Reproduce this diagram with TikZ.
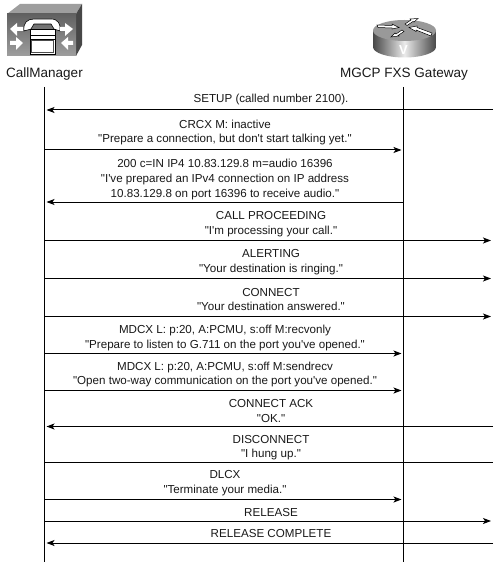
\documentclass[tikz,border=0pt]{standalone}
\usepackage{fontspec}
\setmainfont{Liberation Sans}[Ligatures=TeXOff]
\usetikzlibrary{arrows.meta}
\definecolor{boxtop}{gray}{0.62}
\definecolor{boxside}{gray}{0.28}
\tikzset{
  x=1pt,y=-1pt,
  msg/.style={font=\fontsize{11.6}{14.7}\selectfont,align=center,inner sep=0pt,text=black!90,yshift=-1pt},
  actor/.style={font=\fontsize{13.5}{15}\selectfont,inner sep=0pt,text=black!90},
  lane/.style={line width=1pt,black},
  arrow/.style={line width=1pt,black,-{Stealth[length=8pt,width=6pt,inset=2pt]},shorten >=2pt},
  plain/.style={line width=1pt,black},
  iconwhite/.style={fill=white,draw=none},
  phoneline/.style={draw=black,line width=0.6pt,fill=white},
  routerarrow/.style={fill=white,draw=black,line width=0.5pt},
}
\begin{document}
\begin{tikzpicture}
\useasboundingbox[fill=white] (0,0) rectangle (500,569);

% CallManager icon
\fill[boxtop] (7,14) -- (20,4) -- (82,4) -- (76,14) -- cycle;
\fill[boxside] (76,14) -- (82,4) -- (82,45) -- (76,56) -- cycle;
\shade[top color=black!62,bottom color=black!38] (7,14) rectangle (76,56);
\fill[phoneline] (24,31) .. controls (23,23) and (27,19) .. (34,19) -- (51,19) .. controls (58,19) and (61,24) .. (60,31) -- (54,29) -- (51,24) -- (34,24) -- (31,29) -- cycle;
\fill[phoneline] (30,29) rectangle (55,54);
\draw[black,line width=0.5pt] (30,35) -- (55,35) (30,39) -- (55,39);
\fill[black!70] (31,40) rectangle (54,53);
\fill[white] (32,41) rectangle (53,52);
\fill[iconwhite] (10,29) -- (17,23) -- (17,27) -- (23,27) -- (23,31) -- (17,31) -- (17,36) -- cycle;
\fill[iconwhite] (23,43) -- (16,37) -- (16,41) -- (10,41) -- (10,45) -- (16,45) -- (16,50) -- cycle;
\fill[iconwhite] (73,29) -- (65,23) -- (65,27) -- (60,27) -- (60,31) -- (65,31) -- (65,36) -- cycle;
\fill[iconwhite] (61,43) -- (68,37) -- (68,41) -- (73,41) -- (73,45) -- (68,45) -- (68,50) -- cycle;

% Gateway icon
\shade[left color=black!72,right color=black!72,middle color=black!8]
  (373,30.5) -- (373,47) arc[start angle=180,end angle=0,x radius=31.5,y radius=10.5] -- (436,30.5) -- cycle;
\fill[black!40] (404.5,30.5) ellipse[x radius=31.5,y radius=10.5];
\fill[routerarrow] (377,25) -- (392,25.5) -- (392,24) -- (399,27.5) -- (392,29) -- (392,28) -- (378,27.5) -- cycle;
\fill[routerarrow] (431,36) -- (416,30) -- (416,31.5) -- (409,27.5) -- (417,26) -- (417,27.5) -- (432,33) -- cycle;
\fill[routerarrow] (405,24) -- (411,20) -- (410,19) -- (418,18.5) -- (414,22) -- (413,21.5) -- (407,25.5) -- cycle;
\fill[routerarrow] (402,30) -- (396,34) -- (395,33) -- (391,37) -- (399,36) -- (398,35.5) -- (404,31.5) -- cycle;
\node[font=\fontsize{13}{13}\selectfont\bfseries,text=white,inner sep=0pt] (vmark) at (403.5,50) {V};

% Actor labels
\node[actor] (cm) at (44.5,74) {CallManager};
\node[actor] (gw) at (404,74) {MGCP FXS Gateway};

% Lifelines
\coordinate (ltop) at (44.5,87);
\coordinate (lbot) at (44.5,562);
\coordinate (rtop) at (403.5,87);
\coordinate (rbot) at (403.5,562);
\draw[lane] (ltop) -- (lbot);
\draw[lane] (rtop) -- (rbot);

% Messages
\node[msg] (m1) at (271,99) {SETUP (called number 2100).};
\node[msg] (m2) at (225,131.5) {CRCX M: inactive\\"Prepare a connection, but don't start talking yet."};
\node[msg] (m3) at (225,178.5) {200 c=IN IP4 10.83.129.8 m=audio 16396\\"I've prepared an IPv4 connection on IP address\\10.83.129.8 on port 16396 to receive audio."};
\node[msg] (m4) at (271,223) {CALL PROCEEDING\\"I'm processing your call."};
\node[msg] (m5) at (271,261) {ALERTING\\"Your destination is ringing."};
\node[msg] (m6) at (271,298.5) {CONNECT\\"Your destination answered."};
\node[msg] (m7) at (225,337) {MDCX L: p:20, A:PCMU, s:off M:recvonly\\"Prepare to listen to G.711 on the port you've opened."};
\node[msg] (m8) at (225,373.5) {MDCX L: p:20, A:PCMU, s:off M:sendrecv\\"Open two-way communication on the port you've opened."};
\node[msg] (m9) at (271,410) {CONNECT ACK\\"OK."};
\node[msg] (m10) at (271,446.5) {DISCONNECT\\"I hung up."};
\node[msg] (m11) at (225,482) {DLCX\\"Terminate your media."};
\node[msg] (m12) at (271,511.5) {RELEASE};
\node[msg] (m13) at (271,533) {RELEASE COMPLETE};

% Connector ends
\foreach \n/\y in {a/110,b/150,c/202,d/240.5,e/278.5,f/316.5,g/353.5,h/390.5,i/426.5,j/462.5,k/499.5,l/521,m/543}{
  \coordinate (\n L) at (44.5,\y);
  \coordinate (\n R) at (403.5,\y);
  \coordinate (\n X) at (493,\y);
}
\draw[arrow] (aX) -- (aL);
\draw[arrow] (bL) -- (bR);
\draw[arrow] (cR) -- (cL);
\draw[arrow] (dL) -- (dX);
\draw[arrow] (eL) -- (eX);
\draw[arrow] (fL) -- (fX);
\draw[arrow] (gL) -- (gR);
\draw[arrow] (hL) -- (hR);
\draw[arrow] (iX) -- (iL);
\draw[plain] (jL) -- (jX);
\draw[arrow] (kL) -- (kR);
\draw[arrow] (lL) -- (lX);
\draw[arrow] (mX) -- (mL);
\end{tikzpicture}
\end{document}
